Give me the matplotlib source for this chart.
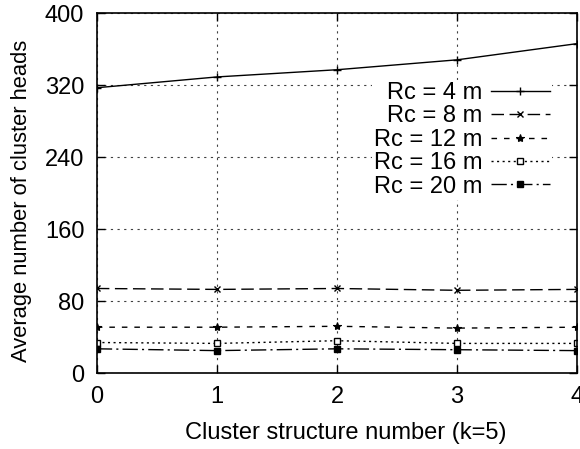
import matplotlib
matplotlib.use('Agg')
import matplotlib.pyplot as plt
import numpy as np

plt.rcParams['font.family'] = ['Liberation Sans', 'DejaVu Sans']

# cluster structure index and average number of cluster heads per radius
x = [0, 1, 2, 3, 4]
rc4 = [317, 329, 337, 348, 366]
rc8 = [94, 93, 94, 92, 93]
rc12 = [51, 51, 52, 50, 51]
rc16 = [34, 33, 36, 33, 33]
rc20 = [27, 25, 27, 26, 25]

labels = ['Rc = 4 m', 'Rc = 8 m', 'Rc = 12 m', 'Rc = 16 m', 'Rc = 20 m']

fs = 17
fig = plt.figure(figsize=(5.8, 4.49), dpi=100)
ax = fig.add_axes([0.167, 0.169, 0.828, 0.802])

ax.plot(x, rc4, color='black', lw=1, linestyle='-', marker='+', ms=6, mew=1, label=labels[0])
ax.plot(x, rc8, color='black', lw=1, linestyle=(0, (9, 4)), marker='x', ms=5, mew=1, label=labels[1])
ax.plot(x, rc12, color='black', lw=1, linestyle=(0, (4, 5)), marker='*', ms=6, mew=0.8, label=labels[2])
ax.plot(x, rc16, color='black', lw=1, linestyle=(0, (1.5, 2.5)), marker='s', ms=5, mfc='white', mew=1, label=labels[3])
ax.plot(x, rc20, color='black', lw=1, linestyle=(0, (11, 3, 1.5, 3)), marker='s', ms=5, mfc='black', label=labels[4])

ax.set_xlim(0, 4)
ax.set_ylim(0, 400)
ax.set_xticks([0, 1, 2, 3, 4])
ax.set_yticks([0, 80, 160, 240, 320, 400])
ax.tick_params(direction='in', length=6, width=1, top=True, right=True, labelsize=fs, pad=9)
ax.grid(True, color='0.25', linestyle=(0, (2, 4)), lw=0.8)
ax.set_axisbelow(True)
for s in ax.spines.values():
    s.set_linewidth(1.2)

ax.set_xlabel('Cluster structure number (k=5)', fontsize=fs, labelpad=10)
ax.set_ylabel('Average number of cluster heads', fontsize=15.8, labelpad=9)
ax.xaxis.label.set_x(0.519)
ax.yaxis.label.set_y(0.478)

leg = ax.legend(loc='upper right', bbox_to_anchor=(0.948, 0.815), markerfirst=False,
                frameon=True, fancybox=False, edgecolor='none', facecolor='white',
                framealpha=1, fontsize=fs, handlelength=2.5, handletextpad=0.35,
                labelspacing=0.06, borderpad=0.1, borderaxespad=0, numpoints=1)

fig.savefig('out.png', dpi=100)
